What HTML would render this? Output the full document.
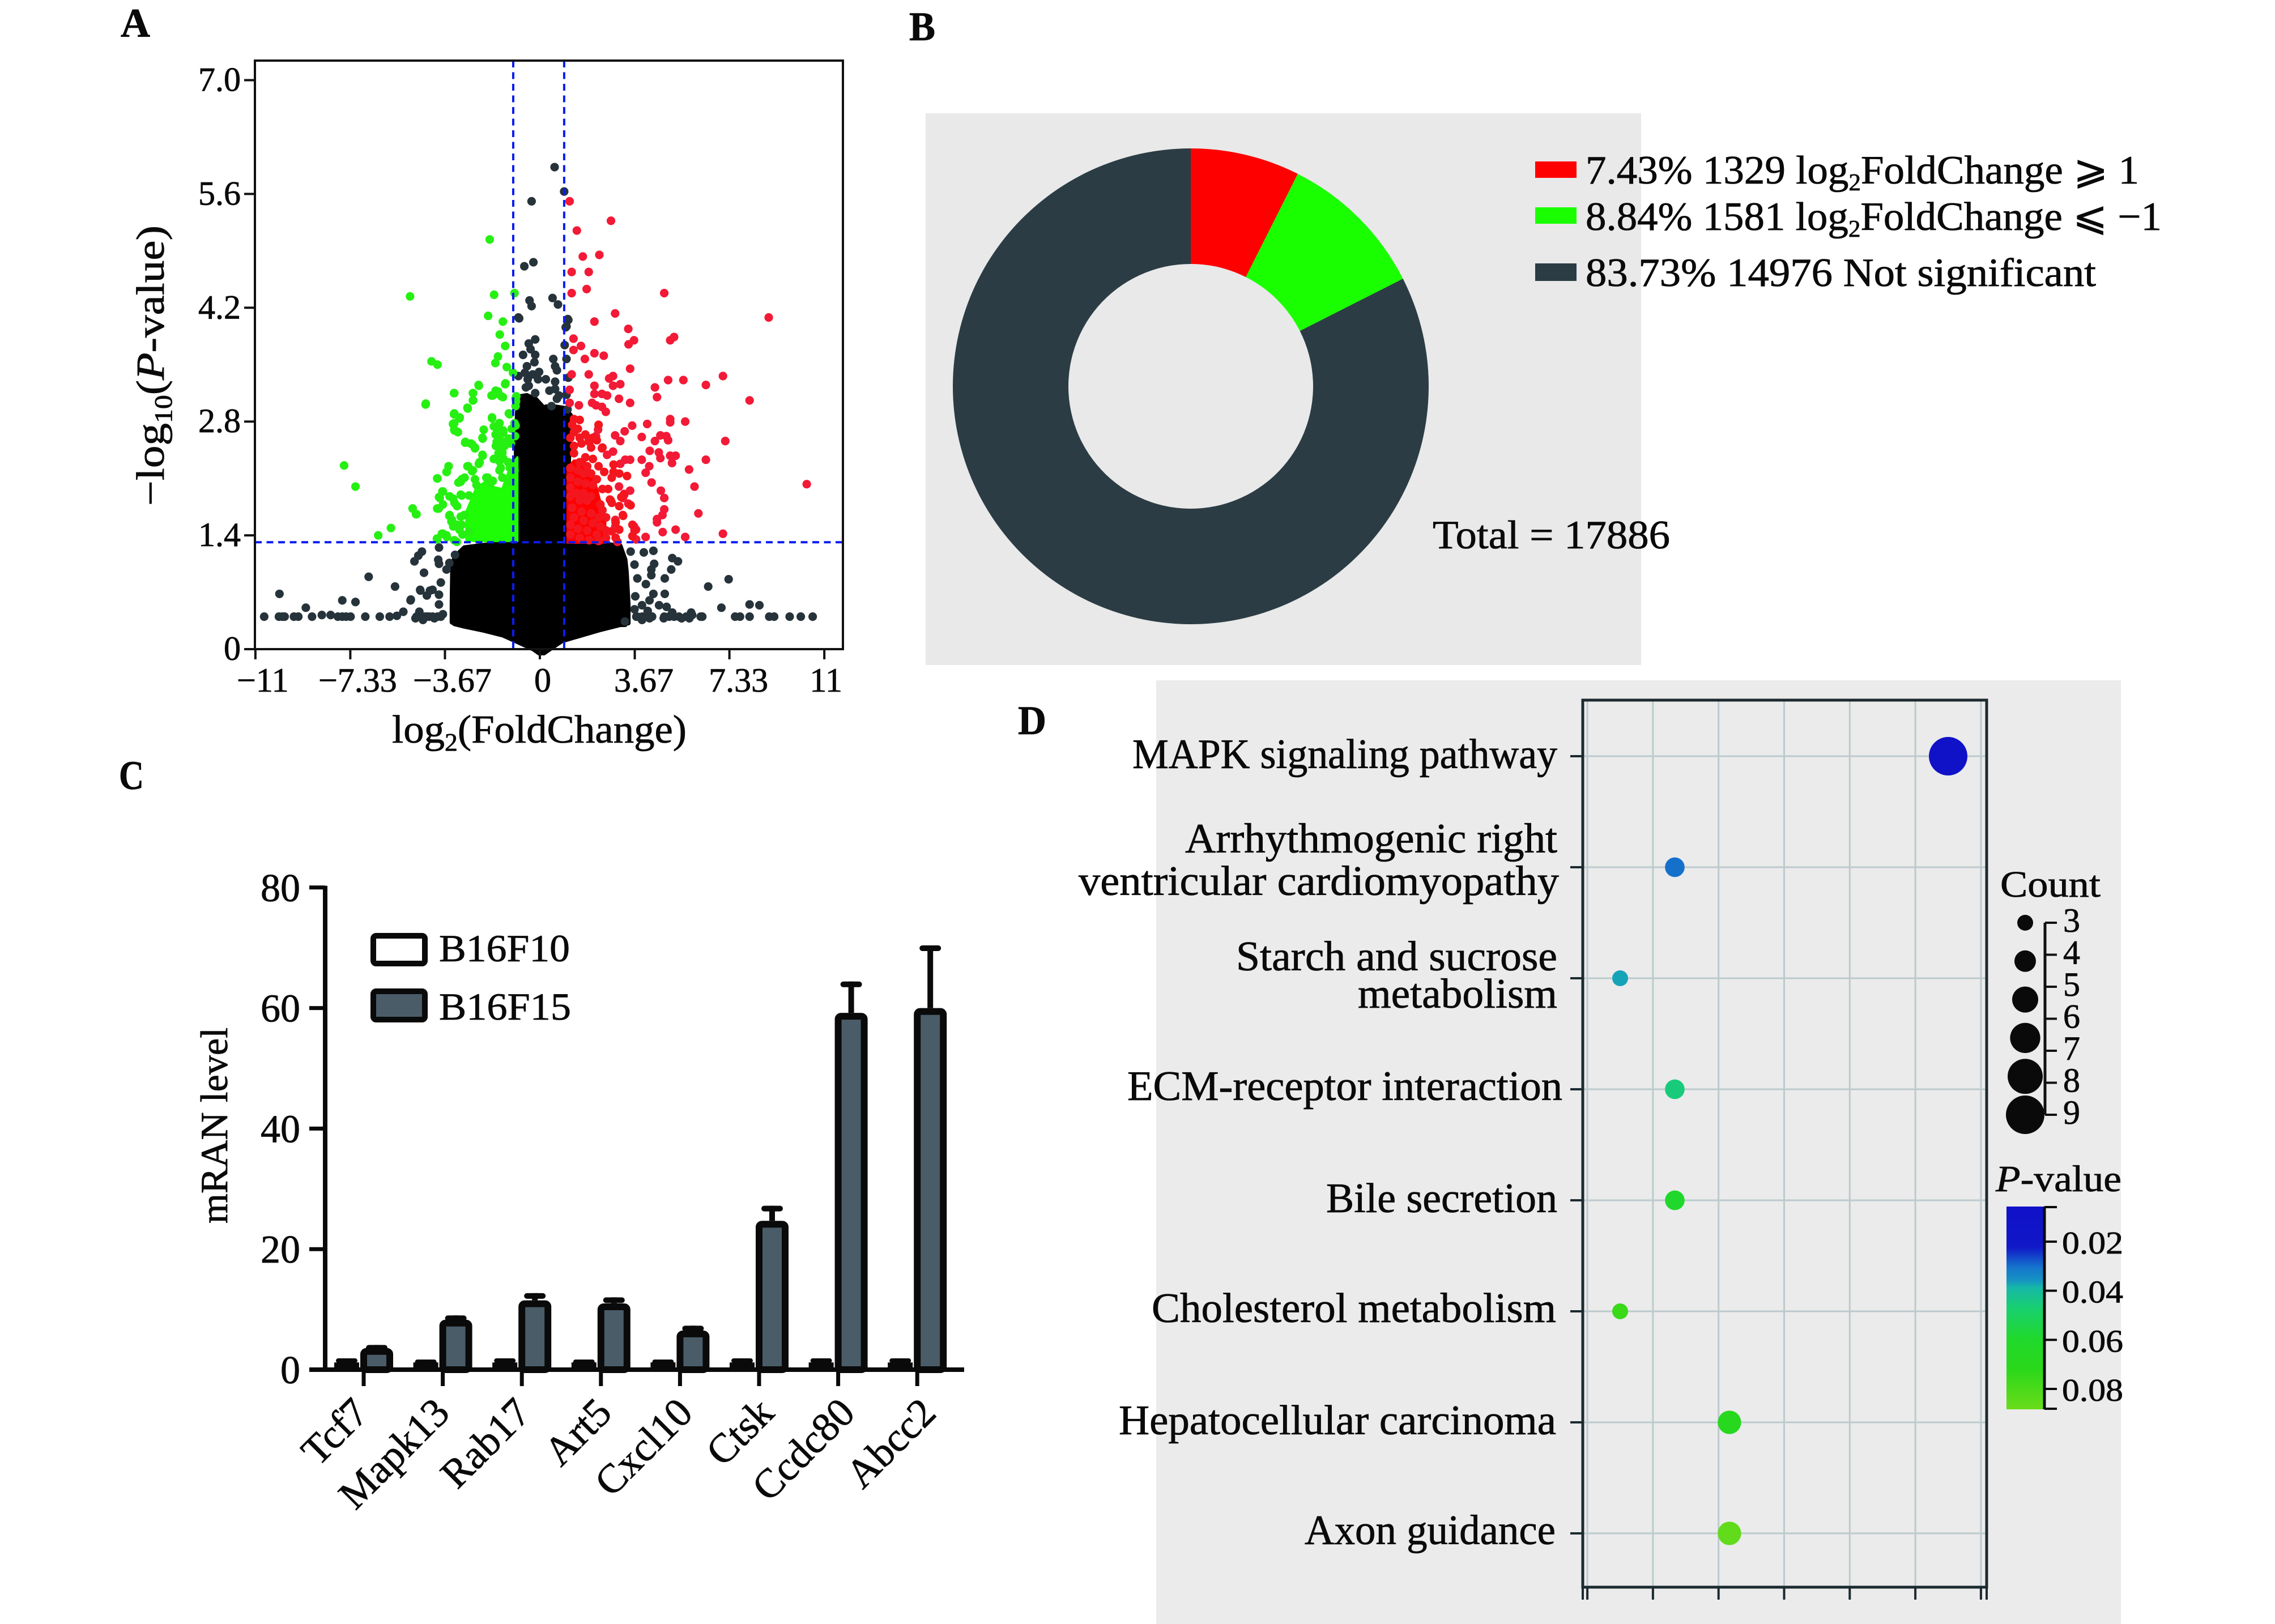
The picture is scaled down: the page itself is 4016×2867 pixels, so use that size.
<!DOCTYPE html>
<html lang="en">
<head>
<meta charset="utf-8">
<title>Multi-panel transcriptome figure</title>
<style>
html,body{margin:0;padding:0;background:#fff;}
svg{display:block;}
text{font-family:"Liberation Serif","DejaVu Sans",serif;fill:#0a0a0a;stroke:#0a0a0a;stroke-width:0.8px;}
</style>
</head>
<body>
<svg id="figure" xmlns="http://www.w3.org/2000/svg" width="4016" height="2867" viewBox="0 0 4016 2867">
  <defs>
    <linearGradient id="cbGrad" x1="0" y1="0" x2="0" y2="1"></linearGradient>
    <clipPath id="volcanoClip"><rect x="450" y="107" width="1038" height="1050"></rect></clipPath>
  </defs>
  <rect width="4016" height="2867" fill="#ffffff"></rect>

  <!-- panel letters -->
  <text x="213" y="65" font-size="72" font-weight="bold" textLength="52" lengthAdjust="spacingAndGlyphs">A</text>
  <text x="1605" y="71" font-size="72" font-weight="bold" textLength="46" lengthAdjust="spacingAndGlyphs">B</text>
  <text x="210" y="1393" font-size="72" font-weight="bold" textLength="44" lengthAdjust="spacingAndGlyphs">C</text>
  <text x="1797" y="1296" font-size="72" font-weight="bold" textLength="50" lengthAdjust="spacingAndGlyphs">D</text>

  <!-- Panel A -->
  <g id="panelA">
    <g id="volcanoMarks" clip-path="url(#volcanoClip)"></g>
    <rect x="450" y="107" width="1038" height="1039" fill="none" stroke="#111" stroke-width="4"></rect>
    <g id="volcanoAxes"></g>
    <text x="692" y="1311" font-size="70" textLength="520" lengthAdjust="spacingAndGlyphs">log<tspan font-size="44" dy="14">2</tspan><tspan dy="-14">(FoldChange)</tspan></text>
    <text transform="rotate(-90 289 893)" x="289" y="893" font-size="70" textLength="495" lengthAdjust="spacingAndGlyphs">−log<tspan font-size="44" dy="14">10</tspan><tspan dy="-14">(</tspan><tspan font-style="italic">P</tspan>-value)</text>
  </g>

  <!-- Panel B -->
  <g id="panelB">
    <rect x="1634" y="200" width="1263" height="974" fill="#e9e9e9"></rect>
    <g id="donutMarks"></g>
    <rect x="2710" y="285" width="73" height="29" fill="#ff0000"></rect>
    <rect x="2710" y="366" width="73" height="29" fill="#1aff00"></rect>
    <rect x="2710" y="465" width="73" height="31" fill="#2b3c44"></rect>
    <text x="2799" y="324" font-size="71" textLength="977" lengthAdjust="spacingAndGlyphs">7.43% 1329 log<tspan font-size="42" dy="12">2</tspan><tspan dy="-12">FoldChange ⩾ 1</tspan></text>
    <text x="2799" y="406" font-size="71" textLength="1017" lengthAdjust="spacingAndGlyphs">8.84% 1581 log<tspan font-size="42" dy="12">2</tspan><tspan dy="-12">FoldChange ⩽ −1</tspan></text>
    <text x="2799" y="505" font-size="71" textLength="901" lengthAdjust="spacingAndGlyphs">83.73% 14976 Not significant</text>
    <text x="2529" y="968" font-size="71" textLength="419" lengthAdjust="spacingAndGlyphs">Total = 17886</text>
  </g>

  <!-- Panel C -->
  <g id="panelC">
    <g id="barMarks"></g>
    <g id="barAxes"></g>
    <text transform="rotate(-90 401 2160)" x="401" y="2160" font-size="68" textLength="346" lengthAdjust="spacingAndGlyphs">mRAN level</text>
    <rect x="659" y="1652" width="91" height="49" rx="5" fill="#ffffff" stroke="#0a0a0a" stroke-width="10"></rect>
    <rect x="659" y="1750" width="91" height="50" rx="5" fill="#4a5c68" stroke="#0a0a0a" stroke-width="10"></rect>
    <text x="775" y="1697" font-size="68" textLength="231" lengthAdjust="spacingAndGlyphs">B16F10</text>
    <text x="775" y="1800" font-size="68" textLength="233" lengthAdjust="spacingAndGlyphs">B16F15</text>
  </g>

  <!-- Panel D -->
  <g id="panelD">
    <rect x="2041" y="1201" width="1703" height="1666" fill="#ebebeb"></rect>
    <g id="bubbleGrid"></g>
    <rect x="2794" y="1236" width="713" height="1566" fill="none" stroke="#1c2a30" stroke-width="5"></rect>
    <g id="bubbleMarks"></g>
    <text x="1999" y="1356" font-size="74" textLength="750" lengthAdjust="spacingAndGlyphs">MAPK signaling pathway</text>
    <text x="2092" y="1505" font-size="74" textLength="657" lengthAdjust="spacingAndGlyphs">Arrhythmogenic right</text>
    <text x="1904" y="1580" font-size="74" textLength="848" lengthAdjust="spacingAndGlyphs">ventricular cardiomyopathy</text>
    <text x="2182" y="1713" font-size="74" textLength="567" lengthAdjust="spacingAndGlyphs">Starch and sucrose</text>
    <text x="2397" y="1779" font-size="74" textLength="352" lengthAdjust="spacingAndGlyphs">metabolism</text>
    <text x="1990" y="1942" font-size="74" textLength="768" lengthAdjust="spacingAndGlyphs">ECM-receptor interaction</text>
    <text x="2341" y="2140" font-size="74" textLength="408" lengthAdjust="spacingAndGlyphs">Bile secretion</text>
    <text x="2033" y="2334" font-size="74" textLength="714" lengthAdjust="spacingAndGlyphs">Cholesterol metabolism</text>
    <text x="1975" y="2532" font-size="74" textLength="772" lengthAdjust="spacingAndGlyphs">Hepatocellular carcinoma</text>
    <text x="2303" y="2726" font-size="74" textLength="443" lengthAdjust="spacingAndGlyphs">Axon guidance</text>
    <text x="3531" y="1583" font-size="66" textLength="177" lengthAdjust="spacingAndGlyphs">Count</text>
    <g id="countLegend"></g>
    <text x="3523" y="2103" font-size="66" textLength="222" lengthAdjust="spacingAndGlyphs"><tspan font-style="italic">P</tspan>-value</text>
    <rect x="3542" y="2130" width="65" height="358" fill="url(#cbGrad)"></rect>
    <g id="colorbarAxis"></g>
  </g>
</svg>

<script>
/* ---------- Panel A: volcano data (log2 fold change, -log10 P) ---------- */
const upFc = [1.15,2.75,1.43,2.30,1.66,1.23,1.89,1.81,1.23,4.81,2.91,8.85,2.11,3.42,5.19,5.04,3.64,3.43,1.30,1.59,1.30,2.11,2.47,1.74,3.49,1.23,1.89,2.83,2.68,4.96,5.55,7.08,6.42,3.11,2.83,2.11,4.45,8.11,4.53,2.11,2.40,2.60,3.06,3.49,1.15,2.02,2.17,2.40,2.55,1.51,1.15,5.04,5.04,5.62,4.15,3.57,3.28,2.91,3.94,3.11,4.45,4.66,4.89,4.96,7.17,4.25,4.60,4.66,5.25,5.04,6.42,5.11,5.77,3.94,3.49,3.30,3.11,2.83,2.60,2.40,2.25,2.17,1.89,4.23,4.09,4.32,5.98,10.32,4.68,4.81,3.49,3.26,3.21,3.06,2.74,3.42,4.81,6.13,4.74,4.53,4.53,3.64,3.72,5.25,7.08,4.75,5.62,4.09,3.58,3.72,3.21,2.92,2.92,3.00];
const upP  = [5.51,5.27,5.15,4.85,4.83,4.64,4.64,4.43,4.38,4.38,4.13,4.08,4.03,3.94,3.84,3.80,3.80,3.75,3.82,3.73,3.68,3.64,3.61,3.57,3.45,3.38,3.38,3.36,3.33,3.31,3.31,3.36,3.25,3.26,3.24,3.24,3.22,3.06,3.10,3.14,3.14,3.12,3.08,3.03,3.19,3.03,3.00,2.98,2.92,3.00,3.03,2.83,2.79,2.80,2.77,2.75,2.68,2.63,2.61,2.56,2.56,2.63,2.62,2.57,2.56,2.44,2.42,2.35,2.38,2.38,2.33,2.29,2.21,2.33,2.33,2.33,2.28,2.43,2.39,2.47,2.70,2.62,2.59,2.25,2.17,2.05,2.00,2.03,1.95,1.86,1.95,1.91,1.86,2.00,1.83,1.79,1.72,1.67,1.65,1.60,1.56,1.51,1.47,1.47,1.42,1.44,1.38,1.38,1.39,1.35,1.65,1.59,1.51,1.32];
const upDenseFc = [1.32,1.54,1.25,1.47,1.32,1.18,1.76,1.54,2.05,2.27,1.91,2.20,1.32,1.61,1.98,2.42,1.32,1.76,2.05,1.54,1.83,2.27,2.85,2.49,2.85,1.18,1.47,1.69,1.98,2.20,2.78,3.07,3.37,1.18,1.47,1.76,2.05,2.42,2.64,1.18,1.39,1.69,1.98,1.18,1.54,1.83,2.34,2.71,2.78,3.07,3.51,3.22,2.42,2.56,2.93,3.07,2.78,2.56,1.25,1.61,1.98,2.27,1.32,1.69,2.05,2.34,1.18,1.47,1.83,2.20,1.18,1.54,1.91,2.27,2.56,2.93,3.58,3.66,3.58,3.15,3.26];
const upDenseP  = [2.83,2.82,2.76,2.71,2.67,2.60,2.64,2.60,2.60,2.76,2.55,2.57,2.50,2.53,2.48,2.48,2.41,2.36,2.34,2.30,2.25,2.25,2.27,2.18,2.18,2.23,2.20,2.16,2.16,2.09,2.11,2.16,2.13,2.11,2.06,2.04,2.02,1.97,1.97,1.99,1.92,1.92,1.88,1.88,1.83,1.83,1.78,1.84,1.80,1.76,1.77,1.64,1.71,1.62,1.56,1.47,1.45,1.46,1.74,1.69,1.67,1.62,1.62,1.58,1.55,1.51,1.53,1.48,1.46,1.41,1.41,1.37,1.34,1.33,1.37,1.37,1.53,1.46,1.39,1.87,1.90];

const downFc = [-1.94,-5.02,-1.77,-0.98,-2.00,-1.43,-1.55,-1.34,-1.62,-1.72,-4.19,-3.96,-1.28,-1.04,-1.34,-2.36,-2.59,-3.32,-1.62,-1.72,-1.87,-1.43,-0.91,-2.59,-2.79,-4.42,-3.32,-3.11,-1.17,-0.92,-1.85,-1.57,-3.36,-3.30,-2.17,-1.64,-1.42,-1.55,-2.21,-2.89,-2.68,-2.51,-1.70,-1.28,-0.94,-0.96,-1.36,-1.60,-2.21,-2.36,-1.42,-1.13,-3.53,-3.60,-2.77,-2.59,-1.51,-3.96,-0.98,-3.02,-3.15,-2.02,-1.89,-7.57,-7.13,-3.77,-3.87,-3.91,-4.92,-4.79,-5.76,-6.25,-3.49,-3.30,-3.49,-3.40,-3.21,-3.98,-3.79,-3.60,-3.21,-2.92,-2.74,-2.45,-3.02,-3.11,-2.74];
const downP  = [5.04,4.34,4.36,4.38,4.10,4.03,3.87,3.73,3.60,3.52,3.54,3.50,3.47,3.40,3.26,3.24,3.15,3.15,3.17,3.14,3.12,3.10,3.11,3.06,2.96,3.01,2.89,2.84,2.89,3.05,2.84,2.78,2.77,2.69,2.70,2.69,2.66,2.58,2.59,2.54,2.53,2.48,2.50,2.56,2.75,2.62,2.50,2.41,2.38,2.28,2.35,2.29,2.25,2.18,2.25,2.20,2.23,2.10,2.20,2.09,2.05,2.11,2.05,2.26,2.00,1.94,1.86,1.73,1.73,1.66,1.49,1.40,1.88,1.80,1.65,1.59,1.53,1.36,1.42,1.38,1.32,1.65,1.89,2.02,1.89,1.47,1.44];
const downDenseFc = [-2.37,-1.33,-3.31,-2.58,-1.71,-1.82,-1.49,-2.58,-4.41,-2.80,-1.20,-3.31,-3.10,-1.85,-3.31,-1.56,-0.98,-1.78,-1.42,-3.31,-3.17,-1.09,-1.71,-0.94,-0.94,-2.22,-2.88,-2.62,-2.51,-1.67,-1.20,-1.12,-1.49,-1.45,-2.22,-2.33,-1.78,-2.80,-2.62,-1.56,-1.23,-3.53,-3.61,-3.97,-1.56,-1.16,-3.06,-2.91,-2.51,-2.07,-1.82,-1.45,-1.16,-3.75,-3.90,-3.06,-3.35,-3.75,-3.97,-3.20,-4.92,-4.77,-3.50,-3.42,-3.06,-3.35,-3.02,-3.75,-3.61,-3.97,-3.31,-2.99];
const downDenseP  = [3.25,3.27,3.15,3.15,3.18,3.12,3.11,3.06,3.02,2.97,2.90,2.90,2.85,2.85,2.78,2.78,2.78,2.74,2.69,2.70,2.67,2.71,2.64,3.08,2.99,2.60,2.55,2.52,2.47,2.55,2.59,2.53,2.49,2.42,2.39,2.30,2.34,2.25,2.19,2.31,2.30,2.25,2.18,2.10,2.20,2.23,2.06,2.11,2.09,2.11,2.07,2.11,2.06,1.94,1.87,1.90,1.85,1.78,1.73,1.76,1.73,1.66,1.64,1.57,1.63,1.51,1.53,1.42,1.40,1.35,1.34,1.41];

const nsFc = [0.57,0.94,-0.32,-0.25,-0.60,-0.40,-0.32,0.49,0.70,-0.83,1.08,1.00,
 -0.18,-0.43,-0.36,-0.18,-0.65,-0.21,-0.50,-0.58,-0.83,-0.28,-0.03,-0.47,-0.07,0.23,-0.43,-0.54,-0.18,0.52,0.59,0.66,0.59,0.37,0.59,0.74,1.10,1.03,0.96,1.03,1.10,-0.80,0.66,1.03,0.45,1.07,
 -10.66,-10.09,-9.96,-9.87,-9.51,-9.34,-8.81,-8.43,-8.09,-7.81,-7.64,-7.49,-7.32,-6.75,-6.19,-5.81,-5.53,-5.28,-4.77,-4.62,-4.43,-4.28,-4.15,-3.96,-3.83,
 3.77,3.96,4.15,4.34,4.81,5.00,5.19,5.38,5.66,5.89,6.28,7.55,7.74,8.11,8.87,9.06,9.66,10.09,10.55,
 -10.07,-9.05,-7.64,-7.13,-6.62,-5.60,-5.00,-4.62,-4.25,
 -3.90,-4.56,-4.70,-4.85,-3.93,-3.90,-3.61,-3.50,-4.48,-3.83,-4.63,-4.15,-4.37,-4.99,-3.90,-3.90,-4.66,-4.81,-4.37,-4.08,-3.75,-4.52,-3.28,
 7.30,6.51,7.02,8.11,8.49,
 3.51,3.66,4.02,4.39,5.12,5.34,4.42,4.31,4.31,5.08,4.83,3.77,4.10,4.39,4.83,3.69,4.24,3.95,4.61,4.90,4.17,5.12,5.85,3.66,3.29,3.95,4.24,4.79,5.04,5.48,5.78,6.22,3.73];
const nsP  = [5.93,5.63,5.51,4.76,4.71,4.29,4.22,4.32,4.24,4.08,4.06,3.96,
 3.81,3.76,3.69,3.62,3.62,3.53,3.48,3.40,3.36,3.38,3.41,3.32,3.32,3.32,3.24,3.22,3.15,3.57,3.48,3.43,3.29,3.18,3.20,3.12,3.34,3.57,3.74,3.97,4.05,4.07,3.08,3.13,2.99,2.95,
 0.40,0.40,0.40,0.40,0.40,0.40,0.40,0.42,0.42,0.40,0.40,0.40,0.40,0.40,0.40,0.40,0.41,0.46,0.40,0.40,0.40,0.40,0.40,0.40,0.40,
 0.40,0.40,0.40,0.40,0.40,0.40,0.40,0.40,0.40,0.42,0.40,0.40,0.40,0.40,0.40,0.40,0.40,0.40,0.40,
 0.68,0.51,0.60,0.58,0.89,0.77,0.60,0.72,0.72,
 1.25,1.20,1.15,1.08,1.10,1.05,0.98,1.06,0.94,0.82,0.73,0.73,0.66,0.61,0.67,0.55,0.46,0.38,0.40,0.38,0.43,0.36,1.16,
 0.86,0.77,0.51,0.55,0.54,
 1.20,1.04,1.19,1.21,1.12,1.08,1.05,0.98,0.91,0.98,0.87,0.87,0.80,0.68,0.68,0.65,0.60,0.54,0.54,0.52,0.47,0.45,0.45,0.49,0.34,0.36,0.38,0.38,0.41,0.38,0.38,0.40,0.40];

/* Overplotted regions, read as envelopes: fold change, lower and upper -log10 P */
const upMassFc = [1.07,1.32,1.69,2.05,2.34,2.53];
const upMassLo = [1.31,1.31,1.31,1.31,1.31,1.31];
const upMassHi = [2.23,2.32,2.32,2.16,1.81,1.64];
const downMassFc = [-2.84,-2.48,-2.11,-1.75,-1.45,-1.16,-0.87];
const downMassLo = [1.34,1.33,1.33,1.33,1.33,1.33,1.33];
const downMassHi = [1.69,1.97,2.06,1.99,1.97,2.23,2.36];
const columnFc = [-0.94,-0.87,-0.50,-0.14,0.12,0.15,0.21,0.23,0.59,0.99,1.21,1.10];
const columnHi = [2.57,3.11,3.13,3.08,2.99,2.11,2.23,2.99,2.99,2.97,2.88,2.00];
const baseFc = [-3.40,-3.38,-3.30,-2.92,-2.17,-1.42,-0.66,-0.25,0.06,0.38,0.85,1.60,2.36,3.11,3.30,3.35,3.42];
const baseLo = [0.33,0.33,0.31,0.28,0.23,0.17,0.06,0,-0.07,0,0.10,0.17,0.24,0.30,0.30,0.32,0.32];
const baseHi = [0.55,1.00,1.13,1.25,1.28,1.31,1.31,1.31,1.31,1.31,1.31,1.31,1.30,1.27,1.10,0.95,0.55];

const vXTicks = [-11,-7.33,-3.67,0,3.67,7.33,11];
const vXLabels = ['−11','−7.33','−3.67','0','3.67','7.33','11'];
const vYTicks = [0,1.4,2.8,4.2,5.6,7.0];
const vYLabels = ['0','1.4','2.8','4.2','5.6','7.0'];
const fcThresholdNeg = -1.03;
const fcThresholdPos = 0.94;
const pThreshold = 1.315;

/* ---------- Panel B: donut ---------- */
const sliceNames = ['up','down','not-significant'];
const sliceValues = [7.43,10.1,82.47];
const sliceColors = ['#ff0000','#1aff00','#2b3c44'];

/* ---------- Panel C: bars ---------- */
const genes = ['Tcf7','Mapk13','Rab17','Art5','Cxcl10','Ctsk','Ccdc80','Abcc2'];
const b16f10 = [1.2,1.2,1.2,1.2,1.2,1.2,1.2,1.2];
const b16f10Err = [1.5,1.3,1.5,1.3,1.3,1.5,1.5,1.5];
const b16f15 = [3.6,8.3,11.5,11.0,6.5,24.7,59.2,60.0];
const b16f15Err = [4.1,9.0,12.7,12.0,7.3,27.2,64.4,70.4];
const barYTicks = [0,20,40,60,80];

/* ---------- Panel D: bubbles ---------- */
const pathways = ['MAPK signaling pathway','Arrhythmogenic right ventricular cardiomyopathy','Starch and sucrose metabolism','ECM-receptor interaction','Bile secretion','Cholesterol metabolism','Hepatocellular carcinoma','Axon guidance'];
const pathwayCounts = [9,4,3,4,4,3,5,5];
const pathwayPValues = [0.010,0.030,0.037,0.0454,0.0594,0.076,0.068,0.086];
const bubbleXTicks = [2.4,3.6,4.8,6.0,7.2,8.4,9.6];
const countLabels = ['3','4','5','6','7','8','9'];
const countLegendSizes = [3,4.5,5.7,6.8,8.1,9];
const pTicks = [0.02,0.04,0.06,0.08];
const pTickLabels = ['0.02','0.04','0.06','0.08'];
const rampStops = [0,0.2,0.3,0.36,0.4,0.5,0.65,0.8,1];
const rampColors = ['#1010c8','#1018c8','#1575cc','#1590c4','#16b8a8','#18d070','#20d82c','#2ad81a','#6adc1a'];

/* ---------- helpers ---------- */
const NS = 'http://www.w3.org/2000/svg';
function mk(tag, attrs, parent, txt) {
  const el = document.createElementNS(NS, tag);
  for (const k in attrs) el.setAttribute(k, attrs[k]);
  if (txt !== undefined) el.textContent = txt;
  parent.appendChild(el);
  return el;
}
const $ = id => document.getElementById(id);

/* ---------- draw A ---------- */
const vx = v => 953 + 45.65 * v;
const vy = p => 1146 - 143.5 * p;
const volG = $('volcanoMarks');
const volAx = $('volcanoAxes');

function dots(fc, p, color, name) {
  fc.forEach((v, i) => {
    const c = mk('circle', {cx: vx(v), cy: vy(p[i]), r: 7.6, fill: color}, volG);
    
    
  });
}
function band(fc, lo, hi, color, name, edge) {
  const top = fc.map((v, i) => vx(v) + ',' + vy(hi[i]));
  const bottom = fc.map((v, i) => vx(v) + ',' + vy(lo[i])).reverse();
  const b = mk('polygon', {points: top.concat(bottom).join(' '), fill: color, stroke: color, 'stroke-width': edge, 'stroke-linejoin': 'round'}, volG);
  
  
}
band(baseFc, baseLo, baseHi, '#000000', 'not-significant-base-mass', 8);
band(columnFc, columnFc.map(() => 1.2), columnHi, '#000000', 'not-significant-column-mass', 6);
dots(nsFc, nsP, '#26333a', 'not-significant-point');
band(downMassFc, downMassLo, downMassHi, '#1efc06', 'down-regulated-mass', 4);
dots(downFc, downP, '#26f012', 'down-regulated-point');
dots(downDenseFc, downDenseP, '#26f012', 'down-regulated-point');
band(upMassFc, upMassLo, upMassHi, '#ff0000', 'up-regulated-mass', 4);
dots(upFc, upP, '#f21a36', 'up-regulated-point');
dots(upDenseFc, upDenseP, '#f4161e', 'up-regulated-point');

const thH = mk('line', {x1: 450, x2: 1488, y1: vy(pThreshold), y2: vy(pThreshold), stroke: '#0b1cf2', 'stroke-width': 4, 'stroke-dasharray': '12 8.5'}, volG);


const thL = mk('line', {x1: vx(fcThresholdNeg), x2: vx(fcThresholdNeg), y1: 107, y2: 1146, stroke: '#0b1cf2', 'stroke-width': 4, 'stroke-dasharray': '12 8.5'}, volG);


const thR = mk('line', {x1: vx(fcThresholdPos), x2: vx(fcThresholdPos), y1: 107, y2: 1146, stroke: '#0b1cf2', 'stroke-width': 4, 'stroke-dasharray': '12 8.5'}, volG);



vXTicks.forEach((v, i) => {
  const t = mk('line', {x1: vx(v), x2: vx(v), y1: 1146, y2: 1164, stroke: '#111', 'stroke-width': 4}, volAx);
  
  
  const nudge = v < 0 ? 13 : v === 0 ? 5 : v === 11 ? 3 : 16;
  const l = mk('text', {x: vx(v) + nudge, y: 1221, 'font-size': 60, 'text-anchor': 'middle'}, volAx, vXLabels[i]);
  
  
});
vYTicks.forEach((v, i) => {
  const t = mk('line', {x1: 431, x2: 450, y1: vy(v), y2: vy(v), stroke: '#111', 'stroke-width': 4}, volAx);
  
  
  const l = mk('text', {x: 425, y: vy(v) + 19, 'font-size': 60, 'text-anchor': 'end'}, volAx, vYLabels[i]);
  
  
});

/* ---------- draw B ---------- */
const dcx = 2102, dcy = 682, rOut = 420, rIn = 216;
const sliceTotal = sliceValues.reduce((a, b) => a + b, 0);
let startAngle = 0;
sliceValues.forEach((v, i) => {
  const a0 = startAngle, a1 = startAngle + v / sliceTotal * 2 * Math.PI;
  startAngle = a1;
  const large = a1 - a0 > Math.PI ? 1 : 0;
  const pt = (r, a) => (dcx + r * Math.sin(a)) + ' ' + (dcy - r * Math.cos(a));
  const d = 'M' + pt(rOut, a0) + ' A' + rOut + ' ' + rOut + ' 0 ' + large + ' 1 ' + pt(rOut, a1) +
            ' L' + pt(rIn, a1) + ' A' + rIn + ' ' + rIn + ' 0 ' + large + ' 0 ' + pt(rIn, a0) + ' Z';
  const s = mk('path', {d: d, fill: sliceColors[i]}, $('donutMarks'));
  
  
});

/* ---------- draw C ---------- */
const by = v => 2418 - 10.64 * v;
const bt = i => 642 + 139.6 * i;
const barG = $('barMarks');
const barAx = $('barAxes');
genes.forEach((g, i) => {
  const cf10 = bt(i) - 30, cf15 = bt(i) + 23;
  const e10 = mk('line', {x1: cf10 - 15, x2: cf10 + 15, y1: by(b16f10Err[i]), y2: by(b16f10Err[i]), stroke: '#0a0a0a', 'stroke-width': 8, 'stroke-linecap': 'round'}, barG);
  
  
  const r10 = mk('rect', {x: cf10 - 22, y: by(b16f10[i]), width: 44, height: 2418 - by(b16f10[i]), fill: '#0a0a0a'}, barG);
  
  
  const eLine = mk('line', {x1: cf15, x2: cf15, y1: by(b16f15Err[i]), y2: by(b16f15[i]), stroke: '#0a0a0a', 'stroke-width': 10}, barG);
  
  
  const eCap = mk('line', {x1: cf15 - 14, x2: cf15 + 14, y1: by(b16f15Err[i]) + 5, y2: by(b16f15Err[i]) + 5, stroke: '#0a0a0a', 'stroke-width': 10, 'stroke-linecap': 'round'}, barG);
  
  
  const r15 = mk('rect', {x: cf15 - 23, y: by(b16f15[i]) + 6, width: 46, height: 2418 - by(b16f15[i]) - 6, fill: '#4a5c68', stroke: '#0a0a0a', 'stroke-width': 12, rx: 5}, barG);
  
  
  const t = mk('line', {x1: bt(i), x2: bt(i), y1: 2418, y2: 2447, stroke: '#0a0a0a', 'stroke-width': 7}, barAx);
  
  
  const ax = bt(i) + 12 + 3.5 * i, ay = 2498;
  const l = mk('text', {x: ax, y: ay, 'font-size': 72, 'text-anchor': 'end', transform: 'rotate(-45 ' + ax + ' ' + ay + ')'}, barAx, g);
  
  
});
const barYAxis = mk('line', {x1: 574, x2: 574, y1: by(80) - 3, y2: by(0) + 4, stroke: '#0a0a0a', 'stroke-width': 8}, barAx);


const barXAxis = mk('line', {x1: 546, x2: 1702, y1: by(0), y2: by(0), stroke: '#0a0a0a', 'stroke-width': 8}, barAx);


barYTicks.forEach(v => {
  const t = mk('line', {x1: 546, x2: 574, y1: by(v), y2: by(v), stroke: '#0a0a0a', 'stroke-width': 7}, barAx);
  
  
  const l = mk('text', {x: 530, y: by(v) + 24, 'font-size': 70, 'text-anchor': 'end'}, barAx, String(v));
  
  
});

/* ---------- draw D ---------- */
const dx = c => 2860 + (c - 3) * 96.5;
const dy = i => 1335 + 196 * i;
const dr = c => 14 + (c - 3) * 3.33;
const gridColor = '#bccacd';
function rampColor(p) {
  const t = Math.min(1, Math.max(0, (p - 0.0057) / (0.0883 - 0.0057)));
  let k = 0;
  while (k < rampStops.length - 2 && t > rampStops[k + 1]) k++;
  const f = (t - rampStops[k]) / (rampStops[k + 1] - rampStops[k]);
  const hex = (s, a) => parseInt(s.substr(a, 2), 16);
  const ch = a => Math.round(hex(rampColors[k], a) + f * (hex(rampColors[k + 1], a) - hex(rampColors[k], a)));
  return 'rgb(' + ch(1) + ',' + ch(3) + ',' + ch(5) + ')';
}
rampStops.forEach((s, i) => {
  mk('stop', {offset: s, 'stop-color': rampColors[i]}, $('cbGrad'));
});
const gridG = $('bubbleGrid');
bubbleXTicks.forEach(v => {
  const g = mk('line', {x1: dx(v), x2: dx(v), y1: 1236, y2: 2802, stroke: gridColor, 'stroke-width': 3}, gridG);
  
  
  const t = mk('line', {x1: dx(v), x2: dx(v), y1: 2802, y2: 2824, stroke: '#1c2a30', 'stroke-width': 4}, gridG);
  
  
});
const frameTickL = mk('line', {x1: 2794, x2: 2794, y1: 2802, y2: 2824, stroke: '#1c2a30', 'stroke-width': 4}, gridG);


const frameTickR = mk('line', {x1: 3507, x2: 3507, y1: 2802, y2: 2824, stroke: '#1c2a30', 'stroke-width': 4}, gridG);


pathways.forEach((name, i) => {
  const g = mk('line', {x1: 2794, x2: 3507, y1: dy(i), y2: dy(i), stroke: gridColor, 'stroke-width': 3}, gridG);
  
  
  const t = mk('line', {x1: 2772, x2: 2794, y1: dy(i), y2: dy(i), stroke: '#1c2a30', 'stroke-width': 4}, gridG);
  
  
  const c = mk('circle', {cx: dx(pathwayCounts[i]), cy: dy(i), r: dr(pathwayCounts[i]), fill: rampColor(pathwayPValues[i])}, $('bubbleMarks'));
  
  
  mk('title', {}, c, name);
});

/* count legend */
const cl = $('countLegend');
const clY = i => 1629 + 56.5 * i;
const clCircleY = i => 1629 + 67.8 * i;
countLegendSizes.forEach((s, i) => {
  const c = mk('circle', {cx: 3575, cy: clCircleY(i), r: dr(s), fill: '#0a0a0a'}, cl);
  
  
});
const clAxis = mk('line', {x1: 3610, x2: 3610, y1: clY(0), y2: clY(6), stroke: '#111', 'stroke-width': 5}, cl);


countLabels.forEach((s, i) => {
  const t = mk('line', {x1: 3610, x2: 3631, y1: clY(i), y2: clY(i), stroke: '#111', 'stroke-width': 4}, cl);
  
  
  const l = mk('text', {x: 3657, y: clY(i) + 16, 'font-size': 60, 'text-anchor': 'middle'}, cl, s);
  
  
});

/* colorbar axis */
const cb = $('colorbarAxis');
const cbY = p => 2192 + (p - 0.02) * 4333;
const cbLine = mk('line', {x1: 3609, x2: 3609, y1: 2130, y2: 2488, stroke: '#0a0a0a', 'stroke-width': 5}, cb);


const cbTop = mk('line', {x1: 3609, x2: 3631, y1: 2131, y2: 2131, stroke: '#0a0a0a', 'stroke-width': 4}, cb);


const cbBottom = mk('line', {x1: 3609, x2: 3631, y1: 2487, y2: 2487, stroke: '#0a0a0a', 'stroke-width': 4}, cb);


pTicks.forEach((p, i) => {
  const t = mk('line', {x1: 3609, x2: 3631, y1: cbY(p), y2: cbY(p), stroke: '#0a0a0a', 'stroke-width': 4}, cb);
  
  
  const l = mk('text', {x: 3640, y: cbY(p) + 21, 'font-size': 56, textLength: 108, lengthAdjust: 'spacingAndGlyphs'}, cb, pTickLabels[i]);
  
  
});
</script>
</body>
</html>
